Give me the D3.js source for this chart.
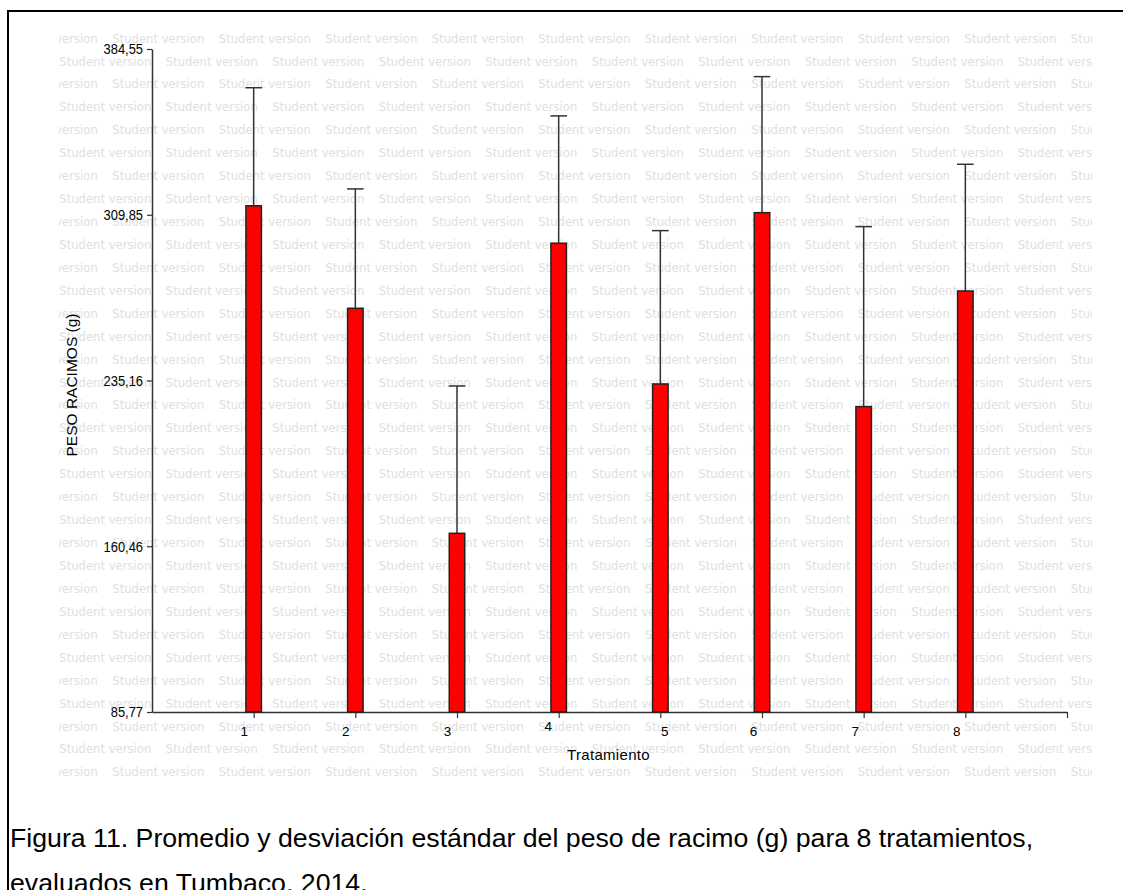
<!DOCTYPE html>
<html>
<head>
<meta charset="utf-8">
<script src="https://cdn.jsdelivr.net/npm/d3@7"></script>
<style>
  html, body { margin: 0; padding: 0; background: #fff; }
  svg { display: block; }
</style>
</head>
<body>
<svg id="chart" width="1123" height="890"></svg>
<script>
// Treatments and bunch weight (mean and standard deviation, g)
const treatments = ["1", "2", "3", "4", "5", "6", "7", "8"];
const meanWeight = [313.9, 267.7, 166.3, 297.0, 233.6, 310.8, 223.4, 275.5];
const sdWeight   = [53.2, 53.8, 66.4, 57.4, 69.1, 61.3, 81.1, 57.1];
const yTicks = [85.77, 160.46, 235.16, 309.85, 384.55];

const captionLines = [
  "Figura 11. Promedio y desviación estándar del peso de racimo (g) para 8 tratamientos,",
  "evaluados en Tumbaco, 2014."
];

const svg = d3.select("#chart");

// Outer frame (top and left edges fall inside the page)
svg.append("rect")
  .attr("x", 8).attr("y", 11)
  .attr("width", 1200).attr("height", 1000)
  .attr("fill", "none").attr("stroke", "#000").attr("stroke-width", 2);

// "Student version" background pattern
svg.append("clipPath").attr("id", "wm-clip")
  .append("rect").attr("x", 59).attr("y", 24).attr("width", 1033).attr("height", 762);
const wm = svg.append("g").attr("clip-path", "url(#wm-clip)")
  .attr("font-family", "'DejaVu Sans', Verdana, sans-serif")
  .attr("font-size", 12.5)
  .attr("fill", "#e0e0e0");
const rowStep = 22.93, colStep = 106.5;
for (let r = 0; r < 33; r++) {
  const y = 38 + r * rowStep + 4.6;
  const x0 = r % 2 === 0 ? 5.8 : 59.3;
  for (let x = x0; x < 1100; x += colStep) {
    wm.append("text").attr("x", x).attr("y", y)
      .attr("textLength", 92).attr("lengthAdjust", "spacingAndGlyphs")
      .text("Student version");
  }
}

// Scales
const x = d3.scaleLinear().domain([0, 9]).range([152, 1067]);
const y = d3.scaleLinear().domain([yTicks[0], yTicks[yTicks.length - 1]]).range([712, 49]);

const locale = d3.formatLocale({ decimal: ",", thousands: ".", grouping: [3], currency: ["", ""] });
const fmt = locale.format(".2f");

const axisColor = "#333";

// Y axis
const yAxis = svg.append("g")
  .attr("transform", `translate(${x(0)},0)`)
  .call(d3.axisLeft(y).tickValues(yTicks).tickFormat(fmt).tickSize(5).tickSizeOuter(0).tickPadding(4));
yAxis.select(".domain").attr("stroke", axisColor).attr("stroke-width", 1.5);
yAxis.selectAll(".tick line").attr("stroke", axisColor).attr("stroke-width", 1.2);
yAxis.selectAll(".tick text")
  .attr("font-family", "'Liberation Sans', Arial, sans-serif")
  .attr("font-size", 15)
  .attr("fill", "#000")
  .attr("x", -10.5)
  .attr("transform", "scale(0.86,1)");

// X axis
const xTickNudge = [-10, -10, -10, -11, 4, -9, -9, -9];
const xTickDrop  = [14, 14, 14, 9, 14, 14, 14, 14];
const xAxis = svg.append("g")
  .attr("transform", `translate(0,${y(yTicks[0])})`)
  .call(d3.axisBottom(x)
    .tickValues(d3.range(1, treatments.length + 2))
    .tickFormat(d => treatments[d - 1] || "")
    .tickSize(6).tickSizeOuter(0));
xAxis.select(".domain").attr("stroke", axisColor).attr("stroke-width", 1.5);
xAxis.selectAll(".tick line").attr("stroke", axisColor).attr("stroke-width", 1.2);
xAxis.selectAll(".tick text")
  .attr("font-family", "'Liberation Sans', Arial, sans-serif")
  .attr("font-size", 13.5)
  .attr("fill", "#000")
  .attr("x", (d, i) => xTickNudge[i] || 0)
  .attr("y", (d, i) => xTickDrop[i] || 14);

// Error bars (upper whisker)
const capHalf = 8.3;
const err = svg.append("g").attr("stroke", "#333").attr("stroke-width", 1.5);
treatments.forEach((t, i) => {
  const cx = x(i + 1);
  err.append("line")
    .attr("x1", cx).attr("x2", cx)
    .attr("y1", y(meanWeight[i])).attr("y2", y(meanWeight[i] + sdWeight[i]));
  err.append("line")
    .attr("x1", cx - capHalf).attr("x2", cx + capHalf)
    .attr("y1", y(meanWeight[i] + sdWeight[i])).attr("y2", y(meanWeight[i] + sdWeight[i]));
});

// Bars
const barW = 15.5;
svg.append("g").selectAll("rect")
  .data(meanWeight)
  .join("rect")
  .attr("x", (d, i) => x(i + 1) - barW / 2)
  .attr("y", d => y(d))
  .attr("width", barW)
  .attr("height", d => y(yTicks[0]) - y(d))
  .attr("fill", "#ff0000")
  .attr("stroke", "#222")
  .attr("stroke-width", 1.5);

// Axis titles
svg.append("text")
  .attr("x", (x(0) + x(9)) / 2 - 1)
  .attr("y", 760)
  .attr("text-anchor", "middle")
  .attr("font-family", "'Liberation Sans', Arial, sans-serif")
  .attr("font-size", 15)
  .attr("letter-spacing", 0.3)
  .text("Tratamiento");

svg.append("text")
  .attr("transform", "translate(77,385) rotate(-90)")
  .attr("text-anchor", "middle")
  .attr("font-family", "'Liberation Sans', Arial, sans-serif")
  .attr("font-size", 15.5)
  .text("PESO RACIMOS (g)");

// Caption
svg.append("g")
  .attr("font-family", "'Liberation Sans', Arial, sans-serif")
  .attr("font-size", 26.7)
  .attr("fill", "#000")
  .selectAll("text")
  .data(captionLines)
  .join("text")
  .attr("x", 10)
  .attr("y", (d, i) => 846.5 + i * 45)
  .text(d => d);
</script>
</body>
</html>
